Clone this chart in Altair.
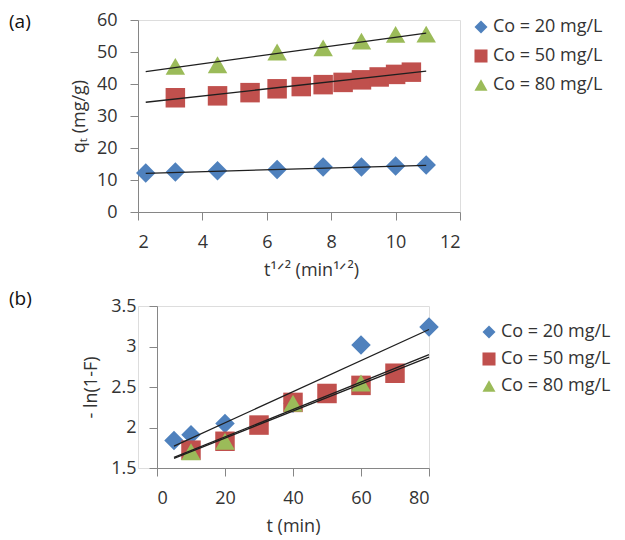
import altair as alt
import pandas as pd

FONT = "Open Sans"
TEXT = "#333333"
AXIS_GRAY = "#868686"

series = ["Co = 20 mg/L", "Co = 50 mg/L", "Co = 80 mg/L"]
colors = ["#4F81BD", "#C0504D", "#9BBB59"]
shapes = ["diamond", "square", "triangle-up"]

# ---- Panel (a): q_t vs t^(1/2)
a_x_20 = [2.24, 3.16, 4.47, 6.32, 7.75, 8.94, 10.0, 10.95]
a_y_20 = [12.2, 12.5, 12.9, 13.3, 14.1, 14.1, 14.4, 14.7]
a_x_50 = [3.16, 4.47, 5.48, 6.32, 7.07, 7.75, 8.37, 8.94, 9.49, 10.0, 10.49]
a_y_50 = [35.7, 36.3, 37.3, 38.5, 39.2, 39.8, 40.5, 41.3, 42.2, 43.0, 43.7]
a_x_80 = [3.16, 4.47, 6.32, 7.75, 8.94, 10.0, 10.95]
a_y_80 = [45.5, 46.0, 50.0, 51.3, 53.4, 55.5, 55.6]
a_fit_x = [2.24, 10.95]
a_fit_20 = [12.1, 14.6]
a_fit_50 = [34.3, 44.0]
a_fit_80 = [43.9, 55.9]
a_xticks = [2, 4, 6, 8, 10, 12]
a_yticks = [0, 10, 20, 30, 40, 50, 60]

# ---- Panel (b): -ln(1-F) vs t
b_x_20 = [5, 10, 20, 40, 60, 80]
b_y_20 = [1.84, 1.91, 2.05, 2.30, 3.02, 3.24]
b_x_50 = [10, 20, 30, 40, 50, 60, 70]
b_y_50 = [1.72, 1.83, 2.03, 2.31, 2.42, 2.52, 2.67]
b_x_80 = [10, 20, 40, 60]
b_y_80 = [1.70, 1.83, 2.30, 2.55]
b_fit_x = [5, 80]
b_fit_20 = [1.77, 3.21]
b_fit_50 = [1.63, 2.90]
b_fit_80 = [1.62, 2.87]
b_xticks = [0, 20, 40, 60, 80]
b_yticks = [1.5, 2, 2.5, 3, 3.5]


def points_df(xs_list, ys_list):
    rows = []
    for name, xs, ys in zip(series, xs_list, ys_list):
        for x, y in zip(xs, ys):
            rows.append({"x": x, "y": y, "series": name})
    return pd.DataFrame(rows)


def fit_df(fx, fys):
    rows = []
    for name, ys in zip(series, fys):
        for x, y in zip(fx, ys):
            rows.append({"x": x, "y": y, "series": name})
    return pd.DataFrame(rows)


axis_style = dict(
    grid=False,
    domainColor=AXIS_GRAY,
    tickColor=AXIS_GRAY,
    tickSize=8,
    labelOverlap=False,
    labelFont=FONT,
    labelFontSize=18,
    labelColor=TEXT,
    titleFont=FONT,
    titleFontSize=18,
    titleColor=TEXT,
    titleFontWeight="normal",
)


def panel(pdf, fdf, xdom, ydom, xticks, yticks, xtitle, ytitle, xfmt, yfmt,
          w, h, xshift, xtitle_x, ytitle_pad, lx, ly, rowpad, tag, tagx, tagy):
    legend = alt.Legend(
        title=None, orient="none", legendX=lx, legendY=ly, padding=0,
        labelFont=FONT, labelFontSize=18, labelColor=TEXT, labelOffset=3,
        symbolSize=170, symbolStrokeWidth=0, rowPadding=rowpad,
    )
    x_enc = alt.X("x:Q",
                  scale=alt.Scale(domain=xdom, nice=False, zero=False, range=[xshift, w]),
                  axis=alt.Axis(values=xticks, title=xtitle, format=xfmt,
                                labelPadding=13, titlePadding=10, titleX=xtitle_x,
                                **axis_style))
    y_enc = alt.Y("y:Q", scale=alt.Scale(domain=ydom, nice=False, zero=False),
                  axis=alt.Axis(values=yticks, title=ytitle, format=yfmt,
                                labelPadding=13, titlePadding=ytitle_pad,
                                offset=-xshift, **axis_style))
    color = alt.Color("series:N", scale=alt.Scale(domain=series, range=colors),
                      legend=legend)
    shape = alt.Shape("series:N", scale=alt.Scale(domain=series, range=shapes),
                      legend=legend)
    pts = alt.Chart(pdf).mark_point(filled=True, size=380, opacity=1).encode(
        x=x_enc, y=y_enc, color=color, shape=shape,
    )
    lines = alt.Chart(fdf).mark_line(color="#1f1f1f", strokeWidth=1.3).encode(
        x=x_enc, y=y_enc, detail="series:N"
    )
    label = alt.Chart(pd.DataFrame({"t": [tag]})).mark_text(
        align="left", baseline="top", font=FONT, fontSize=19, color="#111111"
    ).encode(x=alt.value(tagx), y=alt.value(tagy), text="t:N")
    return alt.layer(pts, lines, label).properties(width=w, height=h)


panel_a = panel(
    points_df([a_x_20, a_x_50, a_x_80], [a_y_20, a_y_50, a_y_80]),
    fit_df(a_fit_x, [a_fit_20, a_fit_50, a_fit_80]),
    [2, 12], [0, 60], a_xticks, a_yticks,
    "t¹ᐟ² (min¹ᐟ²)", "qₜ (mg/g)", "d", "d",
    322, 192, 0, 173, 8, 334, -2, 11, "(a)", -129, -7,
)

panel_b = panel(
    points_df([b_x_20, b_x_50, b_x_80], [b_y_20, b_y_50, b_y_80]),
    fit_df(b_fit_x, [b_fit_20, b_fit_50, b_fit_80]),
    [0, 80], [1.5, 3.5], b_xticks, b_yticks,
    "t (min)", "- ln(1-F)", "d", ".1~f",
    291, 162, 19, 155, 10, 342, 17, 9, "(b)", -129, -16,
)

chart = alt.vconcat(panel_a, panel_b, spacing=9).resolve_scale(
    x="independent", y="independent", color="independent", shape="independent"
).resolve_legend(color="independent", shape="independent").properties(
    padding={"left": 0, "top": 2, "right": 0, "bottom": 0}
).configure_view(stroke=None).configure(font=FONT)

chart.save("out.html", embed_options={"renderer": "svg", "actions": False})
